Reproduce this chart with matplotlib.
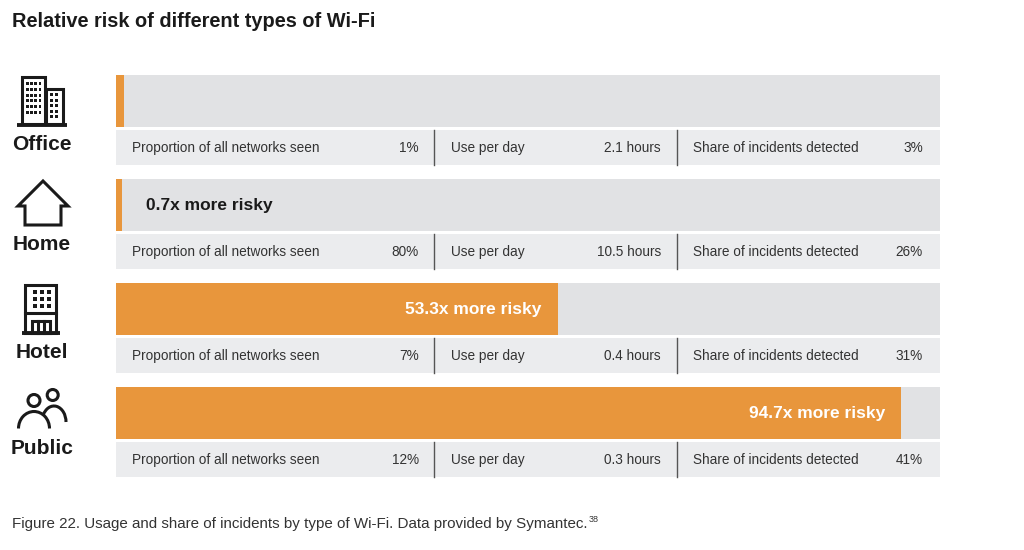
import matplotlib
matplotlib.use("Agg")
import matplotlib.pyplot as plt
from matplotlib.patches import Rectangle, Polygon, Circle, Arc

# ---------------- data ----------------
categories = ["Office", "Home", "Hotel", "Public"]
risk = [1.0, 0.7, 53.3, 94.7]
risk_labels = ["", "0.7x more risky", "53.3x more risky", "94.7x more risky"]
prop_networks = ["1%", "80%", "7%", "12%"]
use_per_day = ["2.1 hours", "10.5 hours", "0.4 hours", "0.3 hours"]
share_incidents = ["3%", "26%", "31%", "41%"]
col_titles = ["Proportion of all networks seen", "Use per day", "Share of incidents detected"]
title = "Relative risk of different types of Wi-Fi"
caption = "Figure 22. Usage and share of incidents by type of Wi-Fi. Data provided by Symantec."
caption_ref = "38"

# ---------------- style ----------------
ORANGE = "#E8963C"
TRACK = "#E1E2E4"
INFO = "#EBECEE"
DARK = "#1A1A1A"
TEXT = "#333333"
FONT = ["Liberation Sans", "DejaVu Sans"]
plt.rcParams["font.family"] = FONT

W, H = 1024, 550
fig = plt.figure(figsize=(W / 100, H / 100), dpi=100)
fig.patch.set_facecolor("white")

# bar axes: x in risk units
X0, X1 = 116, 940
XMAX = 99.4
bx = fig.add_axes([X0 / W, 0, (X1 - X0) / W, 1])
bx.set_xlim(0, XMAX)
bx.set_ylim(H, 0)
bx.axis("off")
bx.set_zorder(1)

# overlay axes in pixel coords (drawn above the bars)
ov = fig.add_axes([0, 0, 1, 1])
ov.set_xlim(0, W)
ov.set_ylim(H, 0)
ov.axis("off")
ov.set_zorder(2)
ov.patch.set_alpha(0)

ROW0, PITCH = 75, 104
BAR_H, INFO_TOP, INFO_H = 52, 55, 35

for i, cat in enumerate(categories):
    top = ROW0 + i * PITCH
    yc = top + BAR_H / 2
    bx.barh(yc, XMAX, height=BAR_H, left=0, color=TRACK, edgecolor="none", zorder=1)
    bx.barh(yc, risk[i], height=BAR_H, left=0, color=ORANGE, edgecolor="none", zorder=2)
    lab = risk_labels[i]
    if lab:
        if risk[i] > 20:
            bx.annotate(lab, (risk[i], yc + 5), xytext=(-16, 0), textcoords="offset pixels",
                        ha="right", va="baseline", color="white", fontsize=12.5,
                        fontweight="bold", zorder=3)
        else:
            ov.text(146, yc + 5, lab, ha="left", va="baseline", color=DARK,
                    fontsize=12.5, fontweight="bold", zorder=3)

    # info row
    it = top + INFO_TOP
    ov.add_patch(Rectangle((X0, it), X1 - X0, INFO_H, facecolor=INFO, edgecolor="none", zorder=1))
    yb = it + INFO_H / 2 + 4.5
    for sx in (434, 677):
        ov.plot([sx, sx], [it, it + INFO_H], color="#555555", lw=1.0, zorder=2)
    fs = 9.8
    kw = dict(va="baseline", color=TEXT, fontsize=fs)
    ov.text(132, yb, col_titles[0], ha="left", **kw)
    ov.text(419, yb, prop_networks[i], ha="right", **kw)
    ov.text(451, yb, col_titles[1], ha="left", **kw)
    ov.text(661, yb, use_per_day[i], ha="right", **kw)
    ov.text(693, yb, col_titles[2], ha="left", **kw)
    ov.text(923, yb, share_incidents[i], ha="right", **kw)

# category labels
label_y = [144, 244, 352, 447]
for cat, ly in zip(categories, label_y):
    ov.text(42, ly + 6.5, cat, ha="center", va="baseline", color=DARK, fontsize=15, fontweight="bold")

# ---------------- icons ----------------
LW = 2.2
# Office
ov.add_patch(Rectangle((21.5, 77), 23.5, 47, fill=False, ec=DARK, lw=LW))
ov.add_patch(Rectangle((46, 88.5), 16.5, 35.5, fill=False, ec=DARK, lw=LW))
ov.plot([17, 67], [124.5, 124.5], color=DARK, lw=LW + 0.6, solid_capstyle="butt")
for r in range(6):
    for c in range(4):
        ov.add_patch(Rectangle((26 + c * 4.2, 82 + r * 5.8), 2.6, 3.0, color=DARK, lw=0))
for r in range(5):
    for c in range(2):
        ov.add_patch(Rectangle((50 + c * 5.3, 93 + r * 5.6), 2.8, 3.0, color=DARK, lw=0))

# Home
ov.add_patch(Polygon([(25, 225), (25, 206), (18, 206), (43, 181), (68, 206),
                      (61, 206), (61, 225)], closed=True, fill=False, ec=DARK, lw=LW,
                     joinstyle="miter"))

# Hotel
ov.add_patch(Rectangle((24.5, 285), 31, 48, fill=False, ec=DARK, lw=LW))
ov.plot([21.5, 59.5], [333, 333], color=DARK, lw=LW + 0.6, solid_capstyle="butt")
for r in range(3):
    for c in range(3):
        ov.add_patch(Rectangle((32.5 + c * 7.2, 290 + r * 7.2), 4.0, 4.0, color=DARK, lw=0))
ov.plot([24.5, 55.5], [313, 313], color=DARK, lw=LW)
ov.add_patch(Rectangle((32, 321), 17.5, 12, fill=False, ec=DARK, lw=LW))
ov.plot([38.3, 38.3], [321, 333], color=DARK, lw=LW)
ov.plot([43.6, 43.6], [321, 333], color=DARK, lw=LW)

# Public
ov.add_patch(Circle((34, 400.5), 6.0, fill=False, ec=DARK, lw=LW))
ov.add_patch(Circle((52.7, 395), 5.5, fill=False, ec=DARK, lw=LW))
ov.add_patch(Arc((34, 428.5), 31, 34, theta1=180, theta2=360, ec=DARK, lw=LW))
ov.add_patch(Arc((54, 422), 24, 32, theta1=212, theta2=360, ec=DARK, lw=LW))

# ---------------- title & caption ----------------
ov.text(12, 27, title, ha="left", va="baseline", color=DARK, fontsize=14.4, fontweight="bold")
cap = ov.text(12, 528, caption, ha="left", va="baseline", color=TEXT, fontsize=10.9)
ov.annotate(caption_ref, xy=(1, 0.5), xycoords=cap, xytext=(1, 5), textcoords="offset pixels",
            ha="left", va="center", fontsize=6.5, color=TEXT)

fig.savefig("out.png", dpi=100, facecolor="white")
